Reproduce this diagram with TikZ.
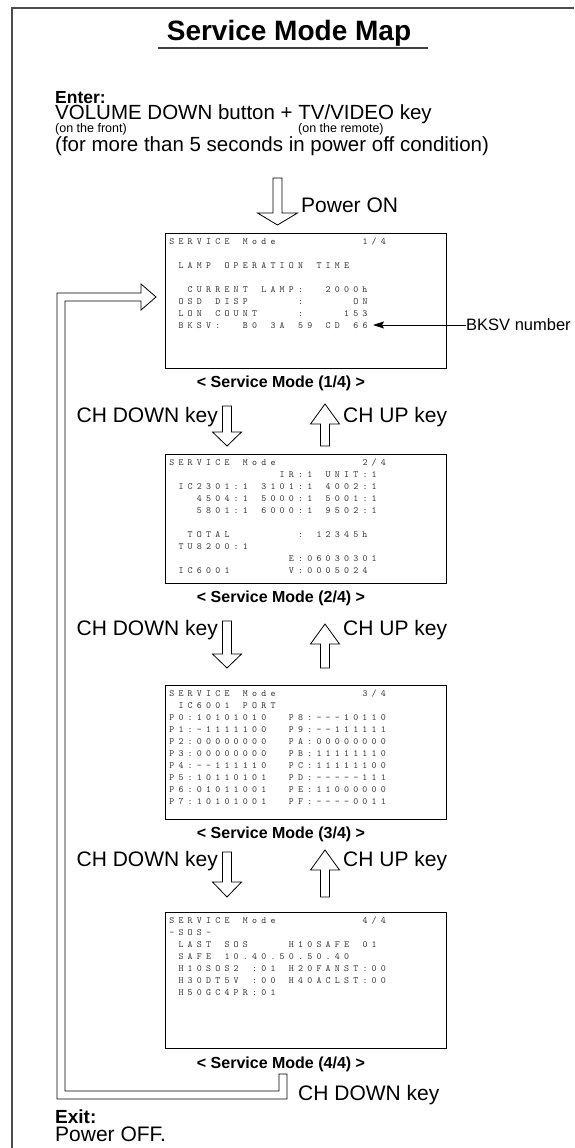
\documentclass[tikz,border=0pt]{standalone}
\usepackage{fontspec}
\setmainfont{Liberation Sans}
\usetikzlibrary{arrows.meta}

% fixed pitch rows for the screen texts, | stands for a blank
\newlength\scrpitch
\setlength\scrpitch{9.2pt}
\def\scrrow#1{\hbox{\strut\scrchr#1\relax}}
\def\scrchr#1{\ifx#1\relax\else\ifx#1|\hbox to\scrpitch{}\else\hbox to\scrpitch{\hss#1\hss}\fi\expandafter\scrchr\fi}

% hollow block arrows: x, start, head base, tip, half head
\newcommand\dnarr[5]{\draw[blk] (#1-4.5,#2) -- (#1+4.5,#2) -- (#1+4.5,#3) -- (#1+#5,#3) -- (#1,#4) -- (#1-#5,#3) -- (#1-4.5,#3) -- cycle;}
\newcommand\uparr[5]{\draw[blk] (#1-4.5,#2) -- (#1+4.5,#2) -- (#1+4.5,#3) -- (#1+#5,#3) -- (#1,#4) -- (#1-#5,#3) -- (#1-4.5,#3) -- cycle;}

\begin{document}
\begin{tikzpicture}[x=1pt,y=-1pt]
\tikzstyle{frm}=[draw=black!70, line width=1.4pt]
\tikzstyle{scr}=[draw, line width=0.9pt, anchor=north west, inner sep=0pt, minimum width=281pt]
\tikzstyle{scrtxt}=[anchor=north west, inner sep=0pt, align=left, text=black!80,
                    font=\ttfamily\fontsize{9.5}{12}\selectfont]
\tikzstyle{blk}=[draw, line width=0.8pt, fill=white, line join=miter]
\tikzstyle{mode}=[anchor=base, inner sep=0pt, font=\bfseries\fontsize{16}{19}\selectfont]
\tikzstyle{lbl}=[inner sep=0pt, font=\fontsize{21}{24}\selectfont]
\tikzstyle{sml}=[anchor=base west, inner sep=0pt, font=\fontsize{12.5}{15}\selectfont]
\useasboundingbox (0,0) rectangle (574,1148);
\draw[frm] (12,1148) -- (12,8) -- (574,8);

\node[anchor=base, inner sep=0pt, font=\bfseries\fontsize{28}{32}\selectfont] (ttl) at (289,41) {Service Mode Map};
\draw[line width=1.3pt, black!75] (158,48) -- (428,48);

\node[anchor=base west, inner sep=0pt, font=\bfseries\fontsize{17.5}{20}\selectfont] (ent) at (55,103.5) {Enter:};
\node[anchor=base west, inner sep=0pt, font=\fontsize{20.5}{24}\selectfont] (vol) at (55,119.5) {VOLUME DOWN button + TV/VIDEO key};
\node[sml] (frt) at (55,132.5) {(on the front)};
\node[sml] (rmt) at (298,132.5) {(on the remote)};
\node[anchor=base west, inner sep=0pt, font=\fontsize{20.5}{24}\selectfont] (cnd) at (55,151) {(for more than 5 seconds in power off condition)};

\dnarr{277.5}{178}{213}{225}{20}
\node[lbl, anchor=base west] (pon) at (301,212) {Power ON};

% screen 1
\node[scr, minimum height=135pt] (s1) at (165,233) {};
\node[scrtxt] (t1) at (167,235.6) {\scrrow{SERVICE|Mode|||||||||1/4}\\
\scrrow{}\\
\scrrow{|LAMP|OPERATION|TIME}\\
\scrrow{}\\
\scrrow{||CURRENT|LAMP:||2000h}\\
\scrrow{|OSD|DISP|||||:|||||ON}\\
\scrrow{|LON|COUNT||||:||||153}\\
\scrrow{|BKSV:||B0|3A|59|CD|66}};
\coordinate (bkt) at (373,325);
\node[anchor=west, inner sep=0pt, font=\fontsize{16.5}{20}\selectfont] (bk) at (466,325) {BKSV number};
\draw[-{Stealth[length=11pt,width=7pt,inset=2pt]}, line width=0.8pt] (bk.west) -- (bkt);
\node[mode] (m1) at (281,387.7) {< Service Mode (1/4) >};

\node[lbl, anchor=base east] (d1) at (218,422.5) {CH DOWN key};
\node[lbl, anchor=base west] (u1) at (343,422.5) {CH UP key};
\dnarr{227}{406}{432}{446}{14.5}
\uparr{325}{446}{424}{404}{14.5}

% screen 2
\node[scr, minimum height=129pt] (s2) at (165,454) {};
\node[scrtxt] (t2) at (167,456.6) {\scrrow{SERVICE|Mode|||||||||2/4}\\
\scrrow{||||||||||||IR:1|UNIT:1}\\
\scrrow{|IC2301:1|3101:1|4002:1}\\
\scrrow{|||4504:1|5000:1|5001:1}\\
\scrrow{|||5801:1|6000:1|9502:1}\\
\scrrow{}\\
\scrrow{||TOTAL|||||||:|12345h}\\
\scrrow{|TU8200:1}\\
\scrrow{|||||||||||||E:06030301}\\
\scrrow{|IC6001||||||V:0005024}};
\node[mode] (m2) at (281,602.7) {< Service Mode (2/4) >};

\node[lbl, anchor=base east] (d2) at (218,635.5) {CH DOWN key};
\node[lbl, anchor=base west] (u2) at (343,635.5) {CH UP key};
\dnarr{227}{621}{654}{668}{14.5}
\uparr{325}{668}{644}{624}{14.5}

% screen 3
\node[scr, minimum height=134pt] (s3) at (165,685) {};
\node[scrtxt] (t3) at (167,687.6) {\scrrow{SERVICE|Mode|||||||||3/4}\\
\scrrow{|IC6001|PORT}\\
\scrrow{P0:10101010||P8:---10110}\\
\scrrow{P1:-1111100||P9:--111111}\\
\scrrow{P2:00000000||PA:00000000}\\
\scrrow{P3:00000000||PB:11111110}\\
\scrrow{P4:--111110||PC:11111100}\\
\scrrow{P5:10110101||PD:-----111}\\
\scrrow{P6:01011001||PE:11000000}\\
\scrrow{P7:10101001||PF:----0011}};
\node[mode] (m3) at (281,838.7) {< Service Mode (3/4) >};

\node[lbl, anchor=base east] (d3) at (218,866) {CH DOWN key};
\node[lbl, anchor=base west] (u3) at (343,866) {CH UP key};
\dnarr{227}{852}{882}{897}{14.5}
\uparr{325}{897}{870}{850}{14.5}

% screen 4
\node[scr, minimum height=136pt] (s4) at (165,912) {};
\node[scrtxt] (t4) at (167,914.6) {\scrrow{SERVICE|Mode|||||||||4/4}\\
\scrrow{-SOS-}\\
\scrrow{|LAST|SOS||||H10SAFE|01}\\
\scrrow{|SAFE|10.40.50.50.40}\\
\scrrow{|H10SOS2|:01|H20FANST:00}\\
\scrrow{|H30DT5V|:00|H40ACLST:00}\\
\scrrow{|H50GC4PR:01}};
\node[mode] (m4) at (281,1068.7) {< Service Mode (4/4) >};

% back to screen 1
\draw[blk] (279,1074) -- (287,1074) -- (287,1099) -- (57,1099) -- (57,293) -- (141,293)
  -- (141,284) -- (156,297) -- (141,310) -- (141,301) -- (65,301) -- (65,1091) -- (279,1091) -- cycle;
\node[lbl, anchor=base west] (d4) at (298,1100) {CH DOWN key};

\node[anchor=base west, inner sep=0pt, font=\bfseries\fontsize{19}{22}\selectfont] (ex) at (55,1123.5) {Exit:};
\node[lbl, anchor=base west] (off) at (55,1141.5) {Power OFF.};
\end{tikzpicture}
\end{document}
